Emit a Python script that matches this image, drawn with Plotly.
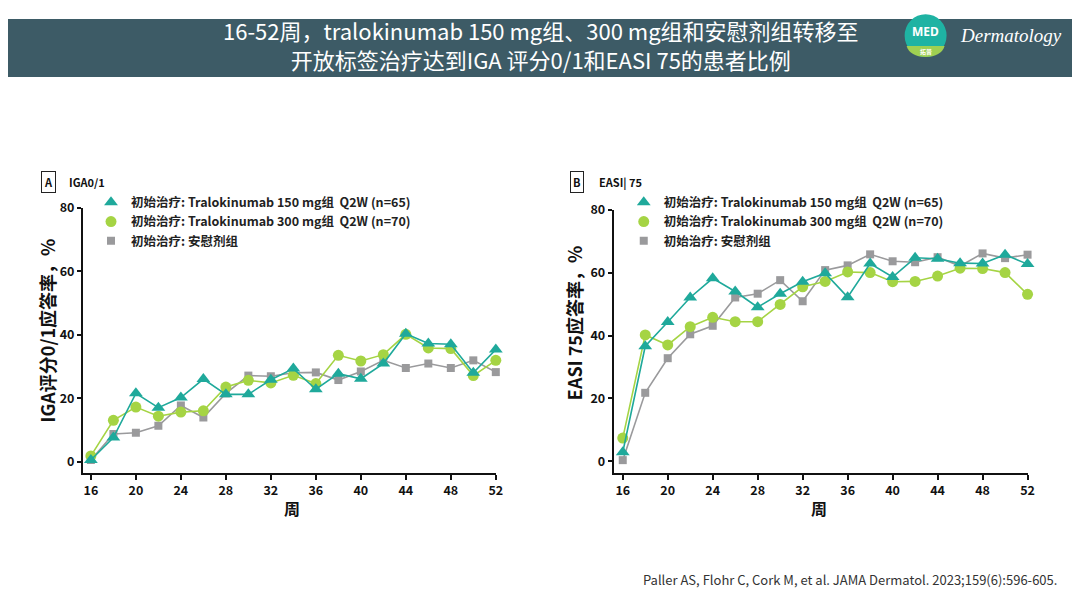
import plotly.graph_objects as go

# Positions below are in the reference picture's pixels. The page puts the
# figure 8px in from the corner and the photo is slightly scaled, so they
# are mapped back to figure pixels before use.
W, H = 1080, 600
OFF = 8
SX, AX = 0.994, -1.0
SY, AY = 0.984, 10.0

weeks = [16, 18, 20, 22, 24, 26, 28, 30, 32, 34, 36, 38, 40, 42, 44, 46, 48, 50, 52]
week_ticks = [16, 20, 24, 28, 32, 36, 40, 44, 48, 52]
pct_ticks = [0, 20, 40, 60, 80]

iga_150 = [0.5, 7.6, 21.5, 17.0, 20.2, 26.0, 21.2, 21.2, 25.8, 29.3, 22.8, 27.7, 26.1, 30.9, 40.3, 37.2, 37.0, 28.0, 35.3]
iga_300 = [1.8, 13.0, 17.2, 14.3, 15.6, 16.0, 23.5, 25.6, 24.8, 27.2, 24.6, 33.5, 31.7, 33.7, 40.1, 35.8, 35.6, 27.1, 31.9]
iga_pbo = [0.5, 8.7, 9.1, 11.3, 17.7, 13.9, 21.5, 27.1, 26.9, 28.0, 28.1, 25.7, 28.4, 31.9, 29.5, 30.9, 29.5, 31.9, 28.2]

easi_150 = [2.9, 36.6, 44.3, 52.1, 58.2, 54.0, 49.0, 53.3, 57.1, 59.8, 52.2, 62.9, 58.6, 64.7, 64.4, 63.0, 62.9, 65.7, 62.7]
easi_300 = [7.4, 40.2, 37.0, 42.8, 45.8, 44.4, 44.4, 49.9, 55.5, 57.2, 60.2, 60.0, 57.1, 57.2, 58.9, 61.4, 61.3, 60.0, 53.1]
easi_pbo = [0.4, 21.8, 32.8, 40.4, 43.1, 52.1, 53.3, 57.6, 50.9, 60.8, 62.3, 65.8, 63.6, 63.3, 64.9, 62.1, 66.1, 64.6, 65.7]

names = [
    "初始治疗: Tralokinumab 150 mg组  Q2W (n=65)",
    "初始治疗: Tralokinumab 300 mg组  Q2W (n=70)",
    "初始治疗: 安慰剂组",
]
TEAL, GREEN, GREY = "#1fa99b", "#a5d444", "#9a9a9c"
styles = [(TEAL, "triangle-up", 12), (GREEN, "circle", 11), (GREY, "square", 8)]

CJK = "Noto Sans CJK SC"


def px(x):
    return ((x - AX) / SX - OFF) / W


def py(y):
    return 1 - ((y - AY) / SY - OFF) / H


fig = go.Figure()

panels = [
    ("x", "y", "legend", [iga_pbo, iga_300, iga_150]),
    ("x2", "y2", "legend2", [easi_pbo, easi_300, easi_150]),
]
for xa, ya, lg, series in panels:
    # legend-only entries (marker without line, as in the original)
    for name, (col, sym, sz) in zip(names, styles):
        fig.add_trace(go.Scatter(
            x=[None], y=[None], mode="markers", name=name, legend=lg,
            marker=dict(color=col, symbol=sym, size=sz),
            xaxis=xa, yaxis=ya,
        ))
    # placebo drawn first so the teal line sits on top
    for vals, (col, sym, sz) in zip(series, styles[::-1]):
        fig.add_trace(go.Scatter(
            x=weeks, y=vals, mode="lines+markers", showlegend=False,
            line=dict(color=col, width=1.6),
            marker=dict(color=col, symbol=sym, size=sz),
            xaxis=xa, yaxis=ya, cliponaxis=False,
        ))

axis_common = dict(
    showgrid=False, zeroline=False, showline=True, linecolor="#111", linewidth=2,
    ticks="outside", tickcolor="#111", tickwidth=1.5,
    tickfont=dict(family=CJK, size=12.5, color="#111", weight="bold"),
)
fig.update_layout(
    xaxis=dict(domain=[px(82), px(495)], range=[15.3, 52], tickvals=week_ticks,
               ticklen=5, anchor="y", **axis_common),
    yaxis=dict(domain=[py(473), py(207)], range=[-3.6, 80], tickvals=pct_ticks,
               ticklen=4, anchor="x", **axis_common),
    xaxis2=dict(domain=[px(613), px(1027)], range=[15.2, 52], tickvals=week_ticks,
                ticklen=5, anchor="y2", **axis_common),
    yaxis2=dict(domain=[py(473), py(209)], range=[-3.7, 80], tickvals=pct_ticks,
                ticklen=4, anchor="x2", **axis_common),
)

legend_common = dict(
    font=dict(family=CJK, size=12.5, color="#222", weight="bold"),
    bgcolor="rgba(0,0,0,0)", xanchor="left", yanchor="top",
    itemsizing="trace", tracegroupgap=0,
)
fig.update_layout(
    legend=dict(x=px(90), y=py(187), **legend_common),
    legend2=dict(x=px(623), y=py(187), **legend_common),
)

# header band and logo
shapes = [
    dict(type="rect", xref="paper", yref="paper", x0=0, x1=1, y0=py(76), y1=1,
         fillcolor="#3d5b66", line_width=0, layer="below"),
    dict(type="circle", xref="paper", yref="paper", x0=px(904), x1=px(946),
         y0=py(56), y1=py(13), fillcolor="#1fb3a3", line_width=0),
    dict(type="path", xref="paper", yref="paper",
         path=(f"M {px(906)},{py(45)} L {px(944)},{py(45)} "
               f"C {px(942)},{py(52)} {px(935)},{py(56)} {px(925)},{py(56)} "
               f"C {px(915)},{py(56)} {px(908)},{py(52)} {px(906)},{py(45)} Z"),
         fillcolor="#9fd052", line_width=0),
]
fig.update_layout(shapes=shapes)

ann = []


def text(x, y, s, size, color="#111", bold=False, xanchor="center", **kw):
    ann.append(dict(
        x=px(x), y=py(y), xref="paper", yref="paper", text=s, showarrow=False,
        xanchor=xanchor, yanchor="middle",
        font=dict(family=kw.pop("family", CJK), size=size, color=color,
                  weight="bold" if bold else "normal", **kw.pop("font", {})),
        **kw,
    ))


text(540, 43, "16-52周，tralokinumab 150 mg组、300 mg组和安慰剂组转移至<br>"
              "开放标签治疗达到IGA 评分0/1和EASI 75的患者比例", 22, "white")
text(925, 30, "MED", 12, "white", bold=True, family="Noto Sans")
text(925, 50, "拓普", 6, "white", bold=True)
text(1010, 34, "Dermatology", 19, "white", family="Liberation Serif",
     font=dict(style="italic"))

# panel labels
text(47, 181, "A", 11, bold=True, bordercolor="#222", borderwidth=1, borderpad=2)
text(66, 181, "IGA0/1", 11, bold=True, xanchor="left")
text(576, 181, "B", 11, bold=True, bordercolor="#222", borderwidth=1, borderpad=2)
text(596, 181, "EASI| 75", 11, bold=True, xanchor="left")

# axis titles
text(46, 330, "IGA评分0/1应答率，%", 18, bold=True, textangle=-90)
text(574, 323, "EASI 75应答率，%", 18, bold=True, textangle=-90)
text(291, 508, "周", 16, bold=True)
text(818, 508, "周", 16, bold=True)

# reference
text(1058, 580, "Paller AS, Flohr C, Cork M, et al. JAMA Dermatol. 2023;159(6):596-605.",
     13, "#333", xanchor="right")

fig.update_layout(
    annotations=ann,
    width=W, height=H, margin=dict(l=0, r=0, t=0, b=0),
    paper_bgcolor="white", plot_bgcolor="white",
)

fig.write_html("out.html")
